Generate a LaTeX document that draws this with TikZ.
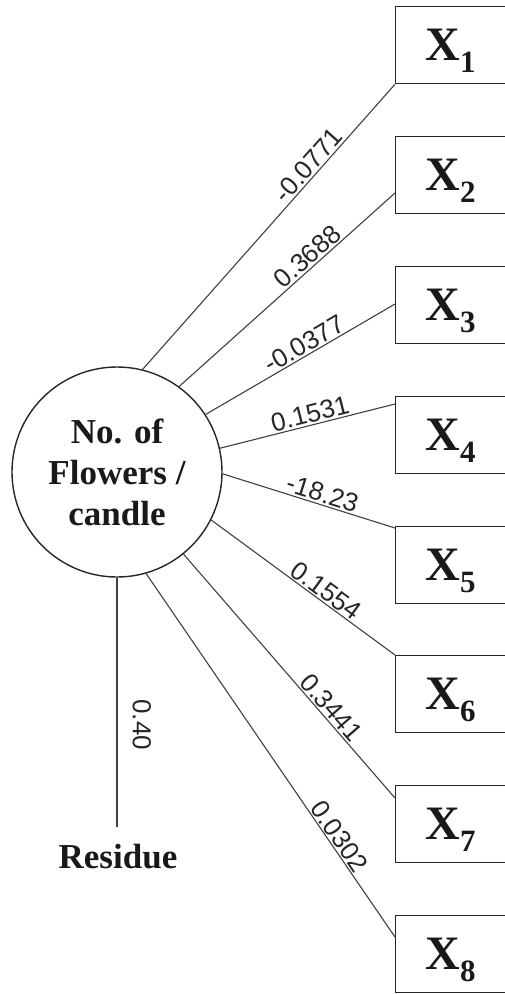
\documentclass[tikz,border=0pt]{standalone}
\usepackage{fontspec}
\setmainfont{Liberation Serif}
\newfontfamily\numfont{Liberation Sans}
\usetikzlibrary{calc}
\newcommand\xsubl[1]{X\raisebox{-0.25em}{\fontsize{31}{31}\selectfont #1}}
\begin{document}
\begin{tikzpicture}[x=1pt,y=-1pt,
  xbox/.style={draw=black!85, line width=1.3pt, minimum width=110pt, minimum height=77pt,
    anchor=north west, inner sep=0pt, text depth=0pt, text=black!90,
    font=\fontsize{48}{48}\selectfont\bfseries},
  link/.style={draw=black!75, line width=1.1pt},
  coef/.style={font=\numfont\fontsize{26}{26}\selectfont, sloped, above, inner sep=1.5pt, text=black!85}]
\useasboundingbox (0,0) rectangle (505,994);
\node[circle, draw=black!85, line width=1.4pt, minimum size=210pt, inner sep=0pt, align=center,
  text=black!90, font=\fontsize{35}{41}\selectfont\bfseries] (c) at (117,472) {No. of\\Flowers /\\candle};
\node[xbox] (x1) at (395,6) {\xsubl{1}};
\node[xbox] (x2) at (395,136) {\xsubl{2}};
\node[xbox] (x3) at (395,266) {\xsubl{3}};
\node[xbox] (x4) at (395,396) {\xsubl{4}};
\node[xbox] (x5) at (395,526) {\xsubl{5}};
\node[xbox] (x6) at (395,655) {\xsubl{6}};
\node[xbox] (x7) at (395,785) {\xsubl{7}};
\node[xbox] (x8) at (395,915) {\xsubl{8}};
\draw[link] (c.76) -- node[coef,pos=0.69]{-0.0771} (x1.south west);
\draw[link] (c.54) -- node[coef,pos=0.63]{0.3688} ($(x2.north west)+(0,57)$);
\draw[link] (c.33) -- node[coef,pos=0.55]{-0.0377} ($(x3.north west)+(0,38)$);
\draw[link] (c.13) -- node[coef,pos=0.53]{0.1531} ($(x4.north west)+(0,8)$);
\draw[link] (c.-1) -- node[coef,pos=0.56]{-18.23} ($(x5.north west)+(0,2)$);
\draw[link] (c.-27) -- node[coef,pos=0.59]{0.1554} (x6.north west);
\draw[link] (c.-51) -- node[coef,pos=0.66]{0.3441} ($(x7.north west)+(0,13)$);
\draw[link] (c.-74.5) -- node[coef,pos=0.74]{0.0302} ($(x8.north west)+(0,22)$);
\coordinate (rend) at (117,827);
\draw[link] (c.south) -- node[coef,pos=0.59,inner sep=15pt]{0.40} (rend);
\node[text=black!90, font=\fontsize{35}{35}\selectfont\bfseries] (res) at (118,857) {Residue};
\end{tikzpicture}
\end{document}
